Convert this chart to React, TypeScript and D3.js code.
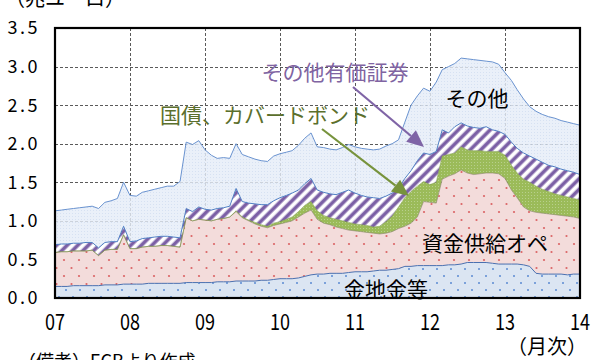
import React from "react";
import * as d3 from "d3";

// Monthly observations, Jan 2007 – Jan 2014 (trillion euro)
const months: Date[] = d3.timeMonth.range(new Date(2007, 0, 1), new Date(2014, 0, 2));

const gold = [
  0.15, 0.15, 0.15, 0.16, 0.16, 0.16, 0.16, 0.16, 0.17, 0.17, 0.17, 0.18,
  0.18, 0.18, 0.18, 0.19, 0.19, 0.19, 0.19, 0.19, 0.19, 0.20, 0.20, 0.20,
  0.20, 0.20, 0.21, 0.21, 0.21, 0.22, 0.22, 0.22, 0.22, 0.23, 0.23, 0.24,
  0.25, 0.25, 0.25, 0.26, 0.28, 0.30, 0.31, 0.31, 0.32, 0.32, 0.32, 0.33,
  0.34, 0.34, 0.34, 0.35, 0.36, 0.36, 0.37, 0.38, 0.41, 0.41, 0.42, 0.42,
  0.42, 0.42, 0.42, 0.43, 0.43, 0.44, 0.46, 0.46, 0.46, 0.46, 0.45, 0.44,
  0.44, 0.44, 0.44, 0.43, 0.41, 0.32, 0.31, 0.31, 0.31, 0.31, 0.30, 0.31,
  0.31,
];
const lending = [
  0.44, 0.45, 0.45, 0.45, 0.45, 0.45, 0.46, 0.39, 0.45, 0.46, 0.46, 0.64,
  0.46, 0.46, 0.48, 0.48, 0.48, 0.49, 0.49, 0.48, 0.47, 0.84, 0.80, 0.82,
  0.81, 0.80, 0.81, 0.82, 0.84, 0.90, 0.82, 0.78, 0.74, 0.70, 0.68, 0.70,
  0.71, 0.73, 0.75, 0.79, 0.82, 0.84, 0.71, 0.66, 0.63, 0.60, 0.58, 0.55,
  0.53, 0.52, 0.51, 0.49, 0.47, 0.48, 0.49, 0.52, 0.52, 0.56, 0.63, 0.83,
  0.82, 0.81, 1.12, 1.15, 1.18, 1.22, 1.16, 1.14, 1.15, 1.16, 1.17, 1.17,
  1.11, 0.96, 0.86, 0.75, 0.72, 0.79, 0.79, 0.78, 0.77, 0.76, 0.76, 0.74,
  0.72,
];
const bonds = [
  0, 0, 0, 0, 0, 0, 0, 0, 0, 0, 0, 0,
  0, 0, 0, 0, 0, 0, 0, 0, 0, 0, 0, 0,
  0, 0, 0, 0, 0, 0.01, 0.01, 0.01, 0.02, 0.02, 0.02, 0.03,
  0.03, 0.04, 0.05, 0.07, 0.10, 0.11, 0.11, 0.10, 0.09, 0.10, 0.10, 0.10,
  0.09, 0.09, 0.09, 0.08, 0.10, 0.15, 0.20, 0.28, 0.37, 0.41, 0.40, 0.26,
  0.23, 0.27, 0.30, 0.28, 0.27, 0.30, 0.30, 0.31, 0.30, 0.28, 0.28, 0.29,
  0.30, 0.32, 0.32, 0.36, 0.37, 0.34, 0.31, 0.29, 0.27, 0.26, 0.25, 0.24,
  0.24,
];
const otherSecurities = [
  0.10, 0.10, 0.10, 0.10, 0.10, 0.11, 0.10, 0.10, 0.10, 0.10, 0.10, 0.11,
  0.09, 0.10, 0.11, 0.11, 0.12, 0.12, 0.12, 0.12, 0.12, 0.12, 0.12, 0.16,
  0.14, 0.14, 0.14, 0.14, 0.14, 0.29, 0.20, 0.22, 0.24, 0.26, 0.28, 0.29,
  0.31, 0.31, 0.31, 0.28, 0.28, 0.30, 0.27, 0.30, 0.31, 0.32, 0.37, 0.42,
  0.40, 0.38, 0.37, 0.38, 0.36, 0.33, 0.30, 0.24, 0.25, 0.27, 0.33, 0.37,
  0.39, 0.40, 0.34, 0.28, 0.34, 0.31, 0.31, 0.30, 0.29, 0.32, 0.28, 0.26,
  0.27, 0.30, 0.32, 0.34, 0.34, 0.35, 0.35, 0.34, 0.35, 0.34, 0.34, 0.34,
  0.33,
];
const others = [
  0.44, 0.44, 0.45, 0.45, 0.46, 0.46, 0.47, 0.51, 0.52, 0.53, 0.56, 0.57,
  0.60, 0.58, 0.60, 0.61, 0.62, 0.63, 0.65, 0.66, 0.73, 0.86, 0.87, 0.86,
  0.77, 0.71, 0.65, 0.65, 0.62, 0.58, 0.61, 0.60, 0.58, 0.57, 0.56, 0.58,
  0.57, 0.56, 0.55, 0.58, 0.59, 0.59, 0.56, 0.58, 0.58, 0.58, 0.58, 0.59,
  0.60, 0.61, 0.62, 0.62, 0.64, 0.65, 0.64, 0.63, 0.73, 0.85, 0.84, 0.84,
  0.82, 0.90, 0.78, 0.86, 0.82, 0.84, 0.87, 0.88, 0.88, 0.85, 0.88, 0.87,
  0.80, 0.80, 0.76, 0.70, 0.64, 0.62, 0.62, 0.63, 0.63, 0.63, 0.63, 0.63,
  0.64,
];

const yTicks = [0, 0.5, 1.0, 1.5, 2.0, 2.5, 3.0, 3.5];
const xTickYears = [2007, 2008, 2009, 2010, 2011, 2012, 2013, 2014];
const xTickLabels = ["07", "08", "09", "10", "11", "12", "13", "14"];

const keys = ["gold", "lending", "bonds", "otherSecurities", "others"] as const;
const seriesValues: Record<string, number[]> = { gold, lending, bonds, otherSecurities, others };

const FONT = "'Noto Sans CJK JP', 'Noto Sans', sans-serif";

export default function App() {
  const W = 598, H = 360;
  const L = 55, R = 580, T = 28, B = 298;

  const x = d3.scaleTime().domain([new Date(2007, 0, 1), new Date(2014, 0, 1)]).range([L, R]);
  const y = d3.scaleLinear().domain([0, 3.5]).range([B, T]);

  const rows = months.map((d, i) => {
    const r: any = { date: d };
    keys.forEach((k) => (r[k] = seriesValues[k][i]));
    return r;
  });
  const stacked = d3.stack<any>().keys(keys as any)(rows);

  const area = d3.area<any>()
    .x((d) => x(d.data.date))
    .y0((d) => y(d[0]))
    .y1((d) => y(d[1]));
  const topLine = d3.line<any>()
    .x((d) => x(d.data.date))
    .y((d) => y(d[1]));

  const fills: Record<string, string> = {
    gold: "url(#pGold)",
    lending: "url(#pPink)",
    bonds: "url(#pGreen)",
    otherSecurities: "url(#pHatch)",
    others: "url(#pOther)",
  };
  const strokes: Record<string, { c: string; w: number }> = {
    gold: { c: "#4a70b0", w: 1 },
    lending: { c: "#8a7f6a", w: 0.6 },
    bonds: { c: "#7a9a42", w: 0.6 },
    otherSecurities: { c: "#4f7fc4", w: 1 },
    others: { c: "#6a93d0", w: 1 },
  };

  const arrow = (x1: number, y1: number, x2: number, y2: number, color: string, len = 17, half = 7.5) => {
    const a = Math.atan2(y2 - y1, x2 - x1);
    const bx = x2 - len * Math.cos(a), by = y2 - len * Math.sin(a);
    const px = -Math.sin(a) * half, py = Math.cos(a) * half;
    return (
      <g>
        <line x1={x1} y1={y1} x2={bx} y2={by} stroke={color} strokeWidth={2.2} />
        <polygon points={`${x2},${y2} ${bx + px},${by + py} ${bx - px},${by - py}`} fill={color} />
      </g>
    );
  };

  return (
    <svg width={W} height={H} style={{ position: "fixed", left: 0, top: 0, background: "#fff" }}
      fontFamily={FONT}>
      <defs>
        <clipPath id="plotClip"><rect x={L} y={T} width={R - L} height={B - T} /></clipPath>
        <pattern id="pGold" width="14" height="14" patternUnits="userSpaceOnUse">
          <rect width="14" height="14" fill="#dbe5f2" />
          <circle cx="3" cy="3" r="1" fill="#5b8bd2" />
          <circle cx="10" cy="10" r="1" fill="#5b8bd2" />
        </pattern>
        <pattern id="pPink" width="15" height="16" patternUnits="userSpaceOnUse">
          <rect width="15" height="16" fill="#f3dcdb" />
          <circle cx="4" cy="4" r="1.1" fill="#dc6466" />
          <circle cx="11.5" cy="12" r="1.1" fill="#dc6466" />
        </pattern>
        <pattern id="pGreen" width="3" height="3" patternUnits="userSpaceOnUse">
          <rect width="3" height="3" fill="#9bbb59" />
          <rect width="1" height="1" fill="#b8d08c" />
        </pattern>
        <pattern id="pOther" width="3" height="3" patternUnits="userSpaceOnUse">
          <rect width="3" height="3" fill="#e5edf8" />
          <rect width="1" height="1" fill="#cddbef" />
        </pattern>
        <linearGradient id="gHatch" x1="0" x2="1" y1="0" y2="0">
          <stop offset="0" stopColor="#ffffff" />
          <stop offset="0.12" stopColor="#ffffff" />
          <stop offset="0.32" stopColor="#7b5fa5" />
          <stop offset="0.6" stopColor="#7b5fa5" />
          <stop offset="0.8" stopColor="#ffffff" />
          <stop offset="1" stopColor="#ffffff" />
        </linearGradient>
        <pattern id="pHatch" width="7.5" height="7.5" patternUnits="userSpaceOnUse" patternTransform="rotate(45)">
          <rect width="7.5" height="7.5" fill="url(#gHatch)" />
        </pattern>
      </defs>

      {/* gridlines */}
      <g stroke="#5a5a5a" strokeWidth={1} strokeDasharray="3,2">
        {yTicks.filter((t) => t > 0 && t < 3.5).map((t) => (
          <line key={"h" + t} x1={L} x2={R} y1={Math.round(y(t)) + 0.5} y2={Math.round(y(t)) + 0.5} />
        ))}
        {xTickYears.slice(1, -1).map((yr) => {
          const xx = Math.round(x(new Date(yr, 0, 1))) + 0.5;
          return <line key={"v" + yr} x1={xx} x2={xx} y1={T} y2={B} />;
        })}
      </g>

      {/* stacked areas */}
      <g clipPath="url(#plotClip)">
        {stacked.map((s) => (
          <path key={s.key} d={area(s) as string} fill={fills[s.key]}
            fillOpacity={s.key === "others" ? 0.82 : 1} />
        ))}
        {stacked.map((s) => (
          <path key={"l" + s.key} d={topLine(s) as string} fill="none"
            stroke={strokes[s.key].c} strokeWidth={strokes[s.key].w} />
        ))}
      </g>

      {/* frame */}
      <rect x={L} y={T} width={R - L} height={B - T} fill="none" stroke="#000" strokeWidth={2.2} />

      {/* y tick labels */}
      {yTicks.map((t) => (
        <text key={"yl" + t} x={40} y={y(t)} dy="0.36em" textAnchor="end" fontSize={18}
          letterSpacing="2.5px" fill="#000">{t.toFixed(1)}</text>
      ))}

      {/* x tick labels */}
      {xTickYears.map((yr, i) => (
        <text key={"xl" + yr} transform={`translate(${x(new Date(yr, 0, 1))},330) scale(0.82,1)`}
          textAnchor="middle" fontSize={22} fill="#000">{xTickLabels[i]}</text>
      ))}

      {/* unit and notes */}
      <text x={5} y={6} fontSize={20} fill="#000">（兆ユーロ）</text>
      <text x={587} y={354} textAnchor="end" fontSize={20} fill="#000">（月次）</text>
      <text x={18} y={368} fontSize={18} fill="#000">（備考）ECBより作成</text>

      {/* annotations */}
      {arrow(353, 87, 424, 147, "#7f64a6")}
      {arrow(322, 129, 409, 196, "#77933c")}
      <text x={335} y={72} dy="0.36em" textAnchor="middle" fontSize={21} fill="#8064a2">その他有価証券</text>
      <text x={265} y={115} dy="0.36em" textAnchor="middle" fontSize={21} fill="#5b6f2c">国債、カバードボンド</text>
      <text x={477} y={98} dy="0.36em" textAnchor="middle" fontSize={21} fill="#000">その他</text>
      <text x={485} y={243} dy="0.36em" textAnchor="middle" fontSize={21} fill="#000">資金供給オペ</text>
      <text x={386} y={289} dy="0.36em" textAnchor="middle" fontSize={21} fill="#000">金地金等</text>
    </svg>
  );
}
